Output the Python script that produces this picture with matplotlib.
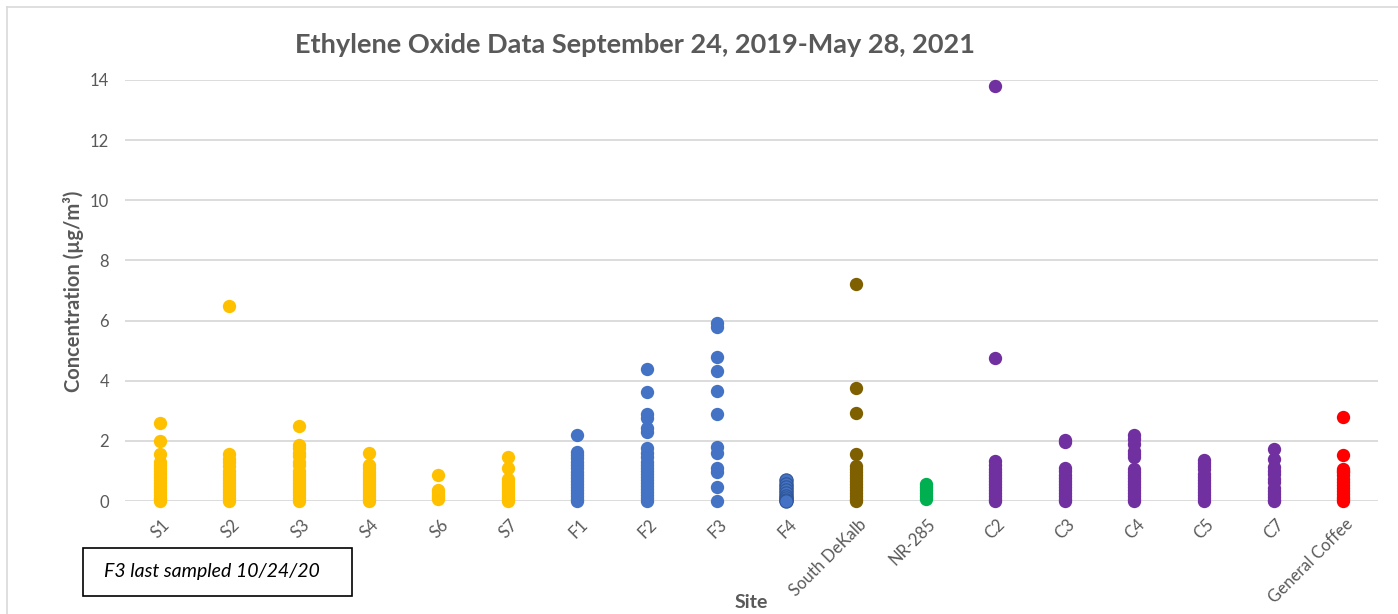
import matplotlib
matplotlib.use("Agg")
import matplotlib.pyplot as plt
from matplotlib.patches import Rectangle
from matplotlib.lines import Line2D
from matplotlib.transforms import ScaledTranslation

plt.rcParams['font.family'] = ['Lato', 'DejaVu Sans']

sites = ["S1", "S2", "S3", "S4", "S6", "S7", "F1", "F2", "F3", "F4",
         "South DeKalb", "NR-285", "C2", "C3", "C4", "C5", "C7", "General Coffee"]

s1 = [2.58, 2.0, 1.57, 1.3, 1.2, 1.1, 1.0, 0.9, 0.8, 0.7, 0.6, 0.5, 0.4, 0.3, 0.2, 0.1, 0.05, 0.0]
s2 = [6.48, 1.55, 1.4, 1.3, 1.15, 1.0, 0.9, 0.8, 0.7, 0.6, 0.5, 0.4, 0.3, 0.2, 0.1, 0.0]
s3 = [2.5, 1.85, 1.75, 1.6, 1.5, 1.3, 1.2, 1.0, 0.9, 0.8, 0.7, 0.6, 0.5, 0.4, 0.3, 0.2, 0.1, 0.0]
s4 = [1.6, 1.2, 1.1, 0.95, 0.85, 0.75, 0.65, 0.55, 0.45, 0.35, 0.25, 0.15, 0.05, 0.0]
s6 = [0.88, 0.38, 0.3, 0.2, 0.12, 0.05]
s7 = [1.46, 1.09, 0.72, 0.62, 0.52, 0.42, 0.32, 0.22, 0.12, 0.05, 0.0]
f1 = [2.18, 1.62, 1.52, 1.42, 1.3, 1.2, 1.1, 0.95, 0.85, 0.75, 0.65, 0.55, 0.45, 0.35, 0.25, 0.15, 0.05, 0.0]
f2 = [4.4, 3.62, 2.89, 2.75, 2.44, 2.3, 1.75, 1.6, 1.45, 1.3, 1.2, 1.1, 1.0, 0.9, 0.8, 0.7,
      0.6, 0.5, 0.4, 0.3, 0.2, 0.1, 0.0]
f3 = [5.92, 5.78, 4.78, 4.33, 3.66, 2.89, 1.78, 1.61, 1.11, 0.97, 0.47, 0.0]
f4 = [0.7, 0.55, 0.45, 0.35, 0.25, 0.18, 0.1, 0.03, 0.0]
south_dekalb = [7.2, 3.77, 2.91, 1.57, 1.15, 1.05, 0.95, 0.85, 0.75, 0.65, 0.55, 0.45, 0.35,
                0.25, 0.15, 0.05, 0.0]
nr285 = [0.55, 0.45, 0.35, 0.25, 0.15, 0.08]
c2 = [13.8, 4.76, 1.32, 1.2, 1.08, 0.95, 0.85, 0.75, 0.65, 0.55, 0.45, 0.35, 0.25, 0.15, 0.05, 0.0]
c3 = [2.02, 1.97, 1.1, 1.0, 0.85, 0.75, 0.65, 0.55, 0.45, 0.35, 0.25, 0.15, 0.05, 0.0]
c4 = [2.2, 2.05, 1.9, 1.65, 1.55, 1.45, 1.05, 0.95, 0.85, 0.75, 0.65, 0.55, 0.45, 0.35, 0.25,
      0.15, 0.05, 0.0]
c5 = [1.38, 1.28, 1.18, 1.08, 0.9, 0.8, 0.7, 0.6, 0.5, 0.4, 0.3, 0.2, 0.1, 0.0]
c7 = [1.72, 1.39, 1.12, 1.0, 0.9, 0.72, 0.62, 0.42, 0.32, 0.22, 0.12, 0.02, 0.0]
general_coffee = [2.78, 1.52, 1.05, 1.0, 0.95, 0.85, 0.72, 0.62, 0.52, 0.42, 0.32, 0.22, 0.12,
                  0.05, 0.0]

series = [s1, s2, s3, s4, s6, s7, f1, f2, f3, f4, south_dekalb, nr285,
          c2, c3, c4, c5, c7, general_coffee]

YELLOW = "#FFC000"
BLUE = "#4472C4"
BROWN = "#7F6000"
GREEN = "#00B050"
PURPLE = "#7030A0"
RED = "#FF0000"
colors = [YELLOW] * 6 + [BLUE] * 4 + [BROWN, GREEN] + [PURPLE] * 5 + [RED]

W, H = 1398, 614
fig = plt.figure(figsize=(W / 100, H / 100), dpi=100)

def fx(px):
    return px / W

def fy(py):
    return 1 - py / H

# outer chart border (left and top visible)
fig.add_artist(Line2D([fx(7), fx(7)], [fy(7), 0], color="#D9D9D9", lw=1.2))
fig.add_artist(Line2D([fx(7), 1], [fy(7), fy(7)], color="#D9D9D9", lw=1.2))

ax = fig.add_axes([fx(125), fy(501), fx(1378) - fx(125), fy(80) - fy(501)])
ax.set_xlim(-0.5, len(sites) - 0.5)
ax.set_ylim(0, 14)
ax.set_yticks(range(0, 15, 2))
ax.grid(axis="y", color="#D9D9D9", lw=1.3)
ax.set_axisbelow(True)
for sp in ax.spines.values():
    sp.set_visible(False)
ax.tick_params(length=0)

for i, (vals, c) in enumerate(zip(series, colors)):
    ec = "#2F5597" if sites[i] == "F4" else c
    ax.scatter([i] * len(vals), vals, s=92, color=c, edgecolors=ec,
               linewidths=0.8 if sites[i] == "F4" else 0, zorder=3, clip_on=False)

ax.set_xticks(range(len(sites)))
ax.set_xticklabels(sites, rotation=45, ha="right", va="top", rotation_mode="anchor",
                   fontsize=12, color="#595959")
ax.tick_params(axis="x", pad=11)
shift = ScaledTranslation(0.02, 0.0, fig.dpi_scale_trans)
for lab in ax.get_xticklabels():
    lab.set_transform(lab.get_transform() + shift)
ax.tick_params(axis="y", pad=15, labelsize=12, labelcolor="#595959")
for lab in ax.get_yticklabels():
    lab.set_transform(lab.get_transform() + ScaledTranslation(0.05, 0, fig.dpi_scale_trans))

fig.text(fx(73), fy(291), "Concentration (µg/m³)", fontsize=14.5, fontweight="bold",
         color="#595959", rotation=90, ha="center", va="center")
fig.text(fx(751), fy(602), "Site", fontsize=14, fontweight="bold", color="#595959",
         ha="center", va="center")

fig.text(fx(635), fy(45), "Ethylene Oxide Data September 24, 2019-May 28, 2021",
         fontsize=19.5, fontweight="bold", color="#595959", ha="center", va="center")

# annotation box
fig.add_artist(Rectangle((fx(83), fy(596)), fx(352) - fx(83), fy(548) - fy(596),
                         transform=fig.transFigure, fill=False, edgecolor="black", lw=1.2))
fig.text(fx(104), fy(572), "F3 last sampled 10/24/20", fontsize=14, style="italic",
         color="black", ha="left", va="center")

fig.savefig("out.png", dpi=100)
